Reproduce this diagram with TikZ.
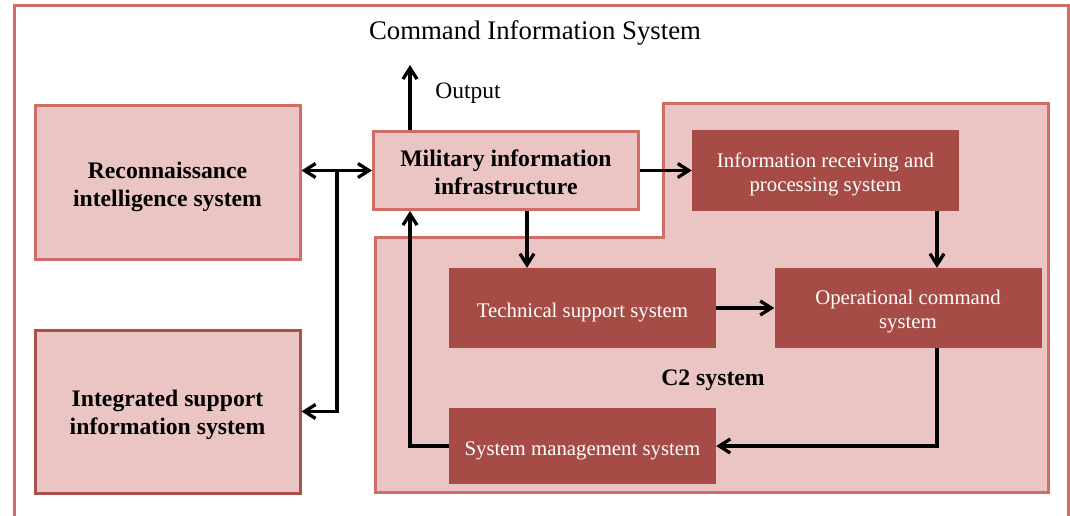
\documentclass[tikz,border=0pt]{standalone}
\usepackage{fontspec}
\setmainfont{Liberation Serif}
\usetikzlibrary{arrows.meta}
\definecolor{lightfill}{HTML}{EBC5C4}
\definecolor{coral}{HTML}{D26C67}
\definecolor{darkred}{HTML}{A64B45}
\definecolor{darkborder}{HTML}{A9504B}
\newcommand{\sdn}[1]{\rule{0pt}{#1pt}}
\begin{document}
\begin{tikzpicture}[x=1pt,y=-1pt,
  lightbox/.style={draw=coral, line width=3pt, fill=lightfill, inner sep=0pt, align=center,
    font=\fontsize{23.7}{28}\selectfont\bfseries},
  darkbox/.style={fill=darkred, text=white, inner sep=0pt, align=center,
    font=\fontsize{20.8}{24}\selectfont},
  conn/.style={draw=black, line width=3.3pt, -{Straight Barb[length=11pt,width=14pt]}},
  dconn/.style={draw=black, line width=3.3pt, {Straight Barb[length=11pt,width=14pt]}-{Straight Barb[length=11pt,width=14pt]}},
  frame/.style={draw=coral, line width=3pt}]
\useasboundingbox (0,0) rectangle (1070,516);
\fill[white] (0,0) rectangle (1070,516);
% outer frame
\draw[frame, line join=miter] (14,520) -- (14,6) -- (1068,6) -- (1068,520);
\node[font=\fontsize{26.8}{30}\selectfont] (title) at (535,30) {\sdn{24.2}Command Information System};
% C2 region
\draw[frame, fill=lightfill, line join=miter] (663,104) -- (1048,104) -- (1048,492) -- (375,492) -- (375,237) -- (663,237) -- cycle;
\node[font=\fontsize{23.7}{28}\selectfont\bfseries] (c2) at (713,377) {\sdn{22}C2 system};
% boxes
\node[lightbox, minimum width=265pt, minimum height=153pt] (recon) at (167.5,182.5) {\sdn{25}Reconnaissance\\intelligence system};
\node[lightbox, draw=darkborder, minimum width=265pt, minimum height=163pt] (integ) at (167.5,411.5) {\sdn{24}Integrated support\\information system};
\node[lightbox, minimum width=265pt, minimum height=78pt] (mil) at (506,170.5) {\sdn{19.5}Military information\\infrastructure};
\node[darkbox, minimum width=267pt, minimum height=80pt] (info) at (825.5,170.5) {\sdn{22}Information receiving and\\processing system};
\node[darkbox, minimum width=267pt, minimum height=80pt] (tech) at (582.5,308) {\sdn{23}Technical support system};
\node[darkbox, minimum width=267pt, minimum height=80pt] (oper) at (908,308) {\sdn{22}Operational command\\system};
\node[darkbox, minimum width=267pt, minimum height=76pt] (sysm) at (582.5,446) {\sdn{23}System management system};
% helper coordinates
\coordinate (xa) at (527,0);
\coordinate (xb) at (937,0);
\coordinate (xd) at (410,0);
\coordinate (jn) at (337,170.5);
\coordinate (outtip) at (410,65);
\node[font=\fontsize{23.5}{26}\selectfont] (outlbl) at (468,91) {\sdn{19.5}Output};
% connectors
\draw[conn] (mil.north -| xd) -- (outtip);
\draw[dconn] (recon.east |- mil.west) -- (mil.west);
\draw[conn] (jn) |- (integ.east);
\draw[conn] (mil.east) -- (info.west);
\draw[conn] (mil.south -| xa) -- (tech.north -| xa);
\draw[conn] (info.south -| xb) -- (oper.north -| xb);
\draw[conn] (tech.east) -- (oper.west);
\draw[conn] (oper.south -| xb) |- (sysm.east);
\draw[conn] (sysm.west) -| (mil.south -| xd);
\end{tikzpicture}
\end{document}
